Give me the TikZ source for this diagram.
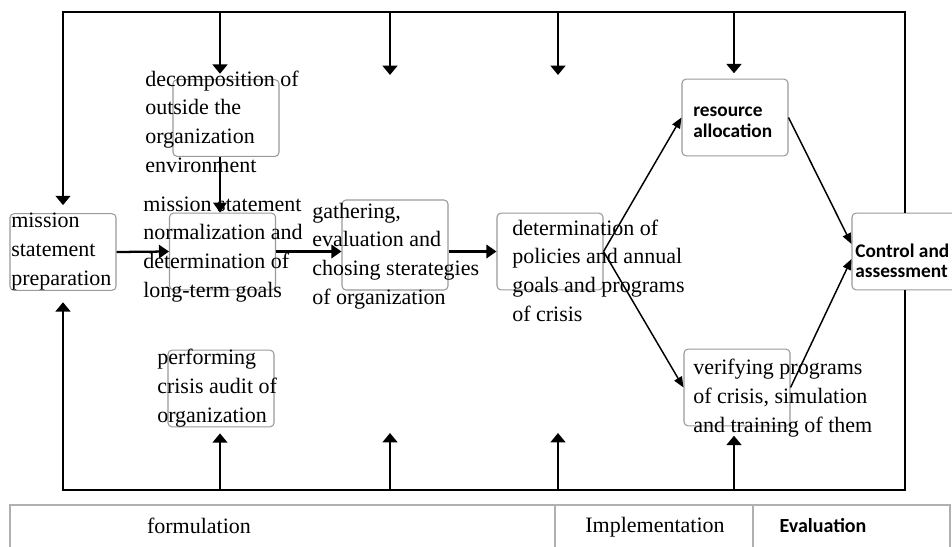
\documentclass[tikz,border=0pt]{standalone}
\usepackage{fontspec}
\setmainfont{Liberation Serif}
\newfontfamily\calibri{Carlito}
\usepackage{tikz}
\usetikzlibrary{
    arrows.meta,
    positioning,
    calc
}
\definecolor{boxGray}{HTML}{9A9A9A}
\definecolor{tabGray}{HTML}{B0B0B0}

\tikzset{
    stagebox/.style={draw=boxGray,line width=0.8pt,rounded corners=3pt,
        minimum width=79.5pt,minimum height=57.5pt,inner sep=0pt},
    serifnote/.style={anchor=base west,align=left,inner sep=0pt,
        font=\fontsize{16.5}{21.4}\selectfont},
    sansnote/.style={anchor=base west,align=left,inner sep=0pt,
        font=\calibri\bfseries\fontsize{14.5}{15.5}\selectfont},
    frameline/.style={line width=2.2pt,line join=miter},
    framearrow/.style={frameline,-{Triangle[length=7pt,width=11pt]}},
    flowarrow/.style={line width=1.7pt,-{Triangle[length=7.5pt,width=10pt]}},
    diagarrow/.style={line width=1.1pt,-{Triangle[length=8pt,width=6.5pt]}}
}

\begin{document}
\begin{tikzpicture}[x=0.75pt,y=-0.75pt]
        \useasboundingbox (0,0) rectangle (952,546);

        % Boxes
        \node[stagebox] (mspbox)  at (63,252)    {};
        \node[stagebox] (decbox)  at (226,118)   {};
        \node[stagebox] (normbox) at (222.5,251.5) {};
        \node[stagebox,minimum height=67.5pt] (gatbox) at (395,245) {};
        \node[stagebox] (detbox)  at (550,251.5) {};
        \node[stagebox] (resbox)  at (735,117.5) {};
        \node[stagebox] (ctlbox)  at (905,251.5) {};
        \node[stagebox] (perfbox) at (221,388.5) {};
        \node[stagebox] (verbox)  at (737,387.5) {};

        % Texts, set a little off the boxes (placed by their last line)
        \node[serifnote] (msptxt)  at (11,285)  {mission\\statement\\preparation};
        \node[serifnote] (dectxt)  at (145,172) {decomposition of\\outside the\\organization\\environment};
        \node[serifnote] (normtxt) at (143,297) {mission statement\\normalization and\\determination of\\long-term goals};
        \node[serifnote] (gattxt)  at (312,304) {gathering,\\evaluation and\\chosing sterategies\\of organization};
        \node[serifnote] (dettxt)  at (512,321) {determination of\\policies and annual\\goals and programs\\of crisis};
        \node[serifnote] (perftxt) at (157,422) {performing\\crisis audit of\\organization};
        \node[serifnote] (vertxt)  at (693,432) {verifying programs\\of crisis, simulation\\and training of them};
        \node[sansnote] (restxt) at (693,137) {resource\\allocation};
        \node[sansnote,font=\calibri\bfseries\fontsize{14.5}{15}\selectfont] (ctltxt) at (855,277) {Control and\\assessment};

        % Frame corners and branch points
        \coordinate (tl) at (63,12);
        \coordinate (tr) at (905,12);
        \coordinate (bl) at (63,490);
        \coordinate (br) at (905,490);
        \foreach \i/\x in {1/220,2/390,3/558,4/734}{
            \coordinate (t\i) at (\x,12);
            \coordinate (b\i) at (\x,490);
        }
        \coordinate (t2end) at (390,75);
        \coordinate (t3end) at (558,75);
        \coordinate (b2end) at (390,433);
        \coordinate (b3end) at (558,433);

        % Feedback frame
        \draw[framearrow,shorten >=6pt] (ctlbox.north) -- (tr) -- (tl) -- (mspbox.north);
        \draw[framearrow,shorten >=8.5pt] (ctlbox.south) -- (br) -- (bl) -- (mspbox.south);
        \draw[framearrow,shorten >=4pt] (t1) -- (decbox.north -| t1);
        \draw[framearrow] (t2) -- (t2end);
        \draw[framearrow] (t3) -- (t3end);
        \draw[framearrow,shorten >=4pt] (t4) -- (resbox.north -| t4);
        \draw[framearrow,shorten >=4.5pt] (b1) -- (perfbox.south -| b1);
        \draw[framearrow] (b2) -- (b2end);
        \draw[framearrow] (b3) -- (b3end);
        \draw[framearrow,shorten >=7pt] (b4) -- (verbox.south -| b4);

        % Main flow
        \draw[flowarrow] (decbox.south -| t1) -- (normbox.north -| t1);
        \draw[flowarrow] (mspbox.east) -- (normbox.west);
        \draw[flowarrow] (normbox.east) -- (normbox.east -| gatbox.west);
        \draw[flowarrow] (gatbox.east |- detbox.west) -- (detbox.west);
        \draw[diagarrow] (detbox.east) -- (resbox.west);
        \draw[diagarrow] (detbox.east) -- (verbox.west);
        \draw[diagarrow] (resbox.east) -- (ctlbox.172);
        \draw[diagarrow] (verbox.east) -- (ctlbox.188);

        % Phase table
        \draw[tabGray,line width=0.8pt] (10,505) rectangle (950,560);
        \draw[tabGray,line width=0.8pt] (555,505) -- (555,560);
        \draw[tabGray,line width=0.8pt] (753,505) -- (753,560);
        \node[anchor=base,inner sep=0pt,font=\fontsize{16.5}{20}\selectfont] (formlbl) at (199,533) {formulation};
        \node[anchor=base,inner sep=0pt,font=\fontsize{16.5}{20}\selectfont] (implbl) at (655,532) {Implementation};
        \node[anchor=base,inner sep=0pt,font=\calibri\bfseries\fontsize{15}{17}\selectfont] (evallbl) at (823,532) {Evaluation};
    \end{tikzpicture}
\end{document}
